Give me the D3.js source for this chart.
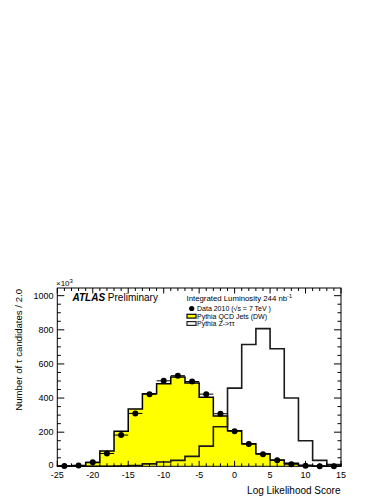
<!DOCTYPE html>
<html><head><meta charset="utf-8">
<script src="https://cdn.jsdelivr.net/npm/d3@7"></script>
<style>body{margin:0;background:#fff}svg{display:block}text{font-family:"Liberation Sans",Arial,Helvetica,sans-serif}</style>
</head><body>
<svg id="c" width="388" height="502"></svg>
<script>
// bin centres (width 2.0)
const binCenters = [-24,-22,-20,-18,-16,-14,-12,-10,-8,-6,-4,-2,0,2,4,6,8,10,12,14];
const qcdValues  = [1,4,22,90,205,336,425,484,523,488,405,295,208,132,73,37,18,6,2,1];
const zttValues  = [0,0,0,0,2,5,14,25,35,58,118,232,458,714,807,689,400,150,35,10];
const dataValues = [2,4,24,75,183,310,423,501,531,497,423,308,206,130,71,35,12,3,1,1];
const xTicks = [-25,-20,-15,-10,-5,0,5,10,15];
const yTicks = [0,200,400,600,800,1000];
const binWidth = 2;

const svg = d3.select("#c");
const L = 57.3, R = 341, T = 288, B = 466.3;
const x = d3.scaleLinear().domain([-25,15]).range([L,R]);
const y = d3.scaleLinear().domain([0,1045]).range([B,T]);

function stepPath(vals){
  const p = d3.path();
  p.moveTo(x(binCenters[0]-binWidth/2), y(0));
  binCenters.forEach((c,i)=>{
    p.lineTo(x(c-binWidth/2), y(vals[i]));
    p.lineTo(x(c+binWidth/2), y(vals[i]));
  });
  p.lineTo(x(binCenters[binCenters.length-1]+binWidth/2), y(0));
  return p.toString();
}

const g = svg.append("g");
g.append("path").attr("d", stepPath(qcdValues)).attr("fill","#ffff00").attr("stroke","#000").attr("stroke-width",1.5);
g.append("path").attr("d", stepPath(zttValues)).attr("fill","none").attr("stroke","#1a1a1a").attr("stroke-width",1.6);

const pts = g.append("g");
binCenters.forEach((c,i)=>{
  pts.append("line").attr("x1",x(c-binWidth/2)).attr("x2",x(c+binWidth/2))
     .attr("y1",y(dataValues[i])).attr("y2",y(dataValues[i])).attr("stroke","#000").attr("stroke-width",1);
  pts.append("circle").attr("cx",x(c)).attr("cy",y(dataValues[i])).attr("r",3).attr("fill","#000");
});

svg.append("rect").attr("x",L).attr("y",T).attr("width",R-L).attr("height",B-T)
  .attr("fill","none").attr("stroke","#000").attr("stroke-width",1);

const ax = svg.append("g").attr("stroke","#000").attr("stroke-width",1);
d3.range(-25,15.01,1).forEach(v=>{
  const major = (v%5===0);
  const len = major?5.5:3;
  ax.append("line").attr("x1",x(v)).attr("x2",x(v)).attr("y1",B).attr("y2",B-len);
  ax.append("line").attr("x1",x(v)).attr("x2",x(v)).attr("y1",T).attr("y2",T+len);
});
d3.range(0,1045,50).forEach(v=>{
  const major = (v%200===0);
  const len = major?7:3.5;
  ax.append("line").attr("x1",L).attr("x2",L+len).attr("y1",y(v)).attr("y2",y(v));
  ax.append("line").attr("x1",R).attr("x2",R-len).attr("y1",y(v)).attr("y2",y(v));
});

const tl = svg.append("g").attr("font-size",9).attr("fill","#000");
xTicks.forEach(v=>{
  tl.append("text").attr("x",x(v)).attr("y",477.5).attr("text-anchor","middle").text(v);
});
yTicks.forEach(v=>{
  tl.append("text").attr("x",53.5).attr("y",v===0 ? y(v)+1.8 : y(v)+3.2).attr("text-anchor","end").text(v);
});

const m = svg.append("text").attr("x",56).attr("y",285.5).attr("font-size",8);
m.append("tspan").text("×10");
m.append("tspan").attr("dy",-3).attr("font-size",6).text("3");

svg.append("text").attr("x",340.5).attr("y",493.5).attr("text-anchor","end").attr("font-size",10).text("Log Likelihood Score");
svg.append("text").attr("transform","translate(22,289) rotate(-90)").attr("text-anchor","end").attr("font-size",9.6)
  .text("Number of τ candidates / 2.0");

const at = svg.append("text").attr("x",72.5).attr("y",301).attr("font-size",10);
at.append("tspan").attr("font-weight","bold").attr("font-style","italic").text("ATLAS");
at.append("tspan").text(" Preliminary");

const lg = svg.append("g").attr("font-size",7);
const lum = lg.append("text").attr("x",186.5).attr("y",300.5).attr("font-size",7.8);
lum.append("tspan").text("Integrated Luminosity 244 nb");
lum.append("tspan").attr("dy",-3).attr("font-size",5.5).text("-1");
lg.append("circle").attr("cx",191.7).attr("cy",308.5).attr("r",2.6).attr("fill","#000");
lg.append("text").attr("x",197).attr("y",311).text("Data 2010 (√s = 7 TeV )");
lg.append("rect").attr("x",187).attr("y",314.3).attr("width",9).attr("height",3.8).attr("fill","#ffff00").attr("stroke","#000").attr("stroke-width",1.2);
lg.append("text").attr("x",197).attr("y",318.8).text("Pythia QCD Jets (DW)");
lg.append("rect").attr("x",187).attr("y",321.6).attr("width",9).attr("height",3.8).attr("fill","#fff").attr("stroke","#222").attr("stroke-width",1.2);
lg.append("text").attr("x",197).attr("y",326.4).text("Pythia Z->ττ");
</script>
</body></html>
